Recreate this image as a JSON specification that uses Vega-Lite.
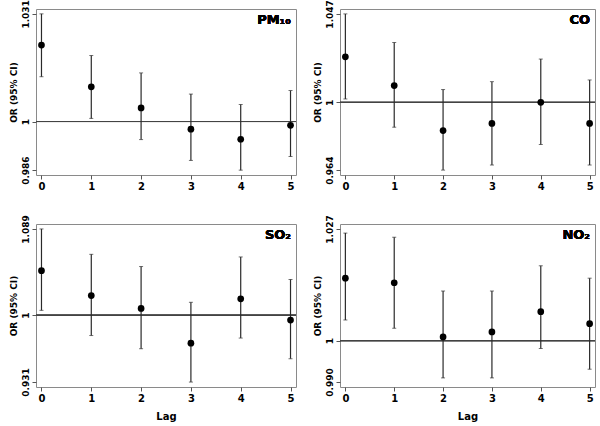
{
  "$schema": "https://vega.github.io/schema/vega-lite/v6.json",
  "padding": {"left": 8, "top": -1, "right": 2, "bottom": 2},
  "background": "white",
  "data": {"values": [
    {"p": "PM10", "lag": 0, "or": 1.0220, "lo": 1.0129, "hi": 1.0310},
    {"p": "PM10", "lag": 1, "or": 1.0100, "lo": 1.0009, "hi": 1.0190},
    {"p": "PM10", "lag": 2, "or": 1.0039, "lo": 0.9948, "hi": 1.0140},
    {"p": "PM10", "lag": 3, "or": 0.9978, "lo": 0.9888, "hi": 1.0079},
    {"p": "PM10", "lag": 4, "or": 0.9949, "lo": 0.9860, "hi": 1.0049},
    {"p": "PM10", "lag": 5, "or": 0.9989, "lo": 0.9899, "hi": 1.0089},
    {"p": "CO", "lag": 0, "or": 1.0242, "lo": 1.0018, "hi": 1.0470},
    {"p": "CO", "lag": 1, "or": 1.0089, "lo": 0.9868, "hi": 1.0318},
    {"p": "CO", "lag": 2, "or": 0.9850, "lo": 0.9640, "hi": 1.0068},
    {"p": "CO", "lag": 3, "or": 0.9888, "lo": 0.9667, "hi": 1.0110},
    {"p": "CO", "lag": 4, "or": 1.0000, "lo": 0.9776, "hi": 1.0230},
    {"p": "CO", "lag": 5, "or": 0.9888, "lo": 0.9667, "hi": 1.0119},
    {"p": "SO2", "lag": 0, "or": 1.0459, "lo": 1.0050, "hi": 1.0890},
    {"p": "SO2", "lag": 1, "or": 1.0202, "lo": 0.9790, "hi": 1.0628},
    {"p": "SO2", "lag": 2, "or": 1.0070, "lo": 0.9654, "hi": 1.0502},
    {"p": "SO2", "lag": 3, "or": 0.9711, "lo": 0.9310, "hi": 1.0133},
    {"p": "SO2", "lag": 4, "or": 1.0169, "lo": 0.9764, "hi": 1.0601},
    {"p": "SO2", "lag": 5, "or": 0.9950, "lo": 0.9551, "hi": 1.0369},
    {"p": "NO2", "lag": 0, "or": 1.0151, "lo": 1.0050, "hi": 1.0260},
    {"p": "NO2", "lag": 1, "or": 1.0140, "lo": 1.0030, "hi": 1.0250},
    {"p": "NO2", "lag": 2, "or": 1.0009, "lo": 0.9910, "hi": 1.0120},
    {"p": "NO2", "lag": 3, "or": 1.0021, "lo": 0.9910, "hi": 1.0120},
    {"p": "NO2", "lag": 4, "or": 1.0070, "lo": 0.9981, "hi": 1.0181},
    {"p": "NO2", "lag": 5, "or": 1.0041, "lo": 0.9931, "hi": 1.0151}
  ]},
  "columns": 2,
  "spacing": {"row": 22, "column": 15},
  "concat": [
    {
      "width": 260, "height": 166,
      "transform": [{"filter": "datum.p == 'PM10'"}],
      "encoding": {
        "x": {"field": "lag", "type": "quantitative", "scale": {"domain": [-0.11, 5.11], "nice": false, "zero": false}, "axis": {"values": [0,1,2,3,4,5], "title": null, "format": "d"}},
        "y": {"field": "or", "type": "quantitative", "scale": {"domain": [0.9846, 1.0324], "nice": false, "zero": false}, "axis": {"values": [0.986, 1, 1.031], "title": "OR (95% CI)", "labelExpr": "datum.value == 1 ? '1' : format(datum.value, '.3f')"}}
      },
      "layer": [
        {"mark": {"type": "rule", "color": "#444", "strokeWidth": 1}, "encoding": {"x": {"datum": -0.11}, "x2": {"datum": 5.11}, "y": {"datum": 1}}},
        {"mark": {"type": "rule", "color": "#2a2a2a", "strokeWidth": 1.2}, "encoding": {"y": {"field": "lo", "type": "quantitative"}, "y2": {"field": "hi"}}},
        {"mark": {"type": "tick", "orient": "horizontal", "size": 4, "color": "#333", "thickness": 1}, "encoding": {"y": {"field": "lo", "type": "quantitative"}}},
        {"mark": {"type": "tick", "orient": "horizontal", "size": 4, "color": "#333", "thickness": 1}, "encoding": {"y": {"field": "hi", "type": "quantitative"}}},
        {"mark": {"type": "point", "filled": true, "color": "#000", "size": 45, "opacity": 1}},
        {"mark": {"type": "text", "text": "PM₁₀", "align": "right", "baseline": "top", "font": "DejaVu Sans", "fontWeight": "bold", "fontSize": 13, "color": "#000", "dx": -5, "dy": 5}, "encoding": {"x": {"datum": 5.11}, "y": {"datum": 1.0324}}}
      ]
    },
    {
      "width": 255, "height": 166,
      "transform": [{"filter": "datum.p == 'CO'"}],
      "encoding": {
        "x": {"field": "lag", "type": "quantitative", "scale": {"domain": [-0.11, 5.11], "nice": false, "zero": false}, "axis": {"values": [0,1,2,3,4,5], "title": null, "format": "d"}},
        "y": {"field": "or", "type": "quantitative", "scale": {"domain": [0.9614, 1.0496], "nice": false, "zero": false}, "axis": {"values": [0.964, 1, 1.047], "title": "OR (95% CI)", "labelExpr": "datum.value == 1 ? '1' : format(datum.value, '.3f')"}}
      },
      "layer": [
        {"mark": {"type": "rule", "color": "#444", "strokeWidth": 1}, "encoding": {"x": {"datum": -0.11}, "x2": {"datum": 5.11}, "y": {"datum": 1}}},
        {"mark": {"type": "rule", "color": "#2a2a2a", "strokeWidth": 1.2}, "encoding": {"y": {"field": "lo", "type": "quantitative"}, "y2": {"field": "hi"}}},
        {"mark": {"type": "tick", "orient": "horizontal", "size": 4, "color": "#333", "thickness": 1}, "encoding": {"y": {"field": "lo", "type": "quantitative"}}},
        {"mark": {"type": "tick", "orient": "horizontal", "size": 4, "color": "#333", "thickness": 1}, "encoding": {"y": {"field": "hi", "type": "quantitative"}}},
        {"mark": {"type": "point", "filled": true, "color": "#000", "size": 45, "opacity": 1}},
        {"mark": {"type": "text", "text": "CO", "align": "right", "baseline": "top", "font": "DejaVu Sans", "fontWeight": "bold", "fontSize": 13, "color": "#000", "dx": -5, "dy": 5}, "encoding": {"x": {"datum": 5.11}, "y": {"datum": 1.0496}}}
      ]
    },
    {
      "width": 260, "height": 163,
      "transform": [{"filter": "datum.p == 'SO2'"}],
      "encoding": {
        "x": {"field": "lag", "type": "quantitative", "scale": {"domain": [-0.11, 5.11], "nice": false, "zero": false}, "axis": {"values": [0,1,2,3,4,5], "title": "Lag", "format": "d"}},
        "y": {"field": "or", "type": "quantitative", "scale": {"domain": [0.9259, 1.0941], "nice": false, "zero": false}, "axis": {"values": [0.931, 1, 1.089], "title": "OR (95% CI)", "labelExpr": "datum.value == 1 ? '1' : format(datum.value, '.3f')"}}
      },
      "layer": [
        {"mark": {"type": "rule", "color": "#444", "strokeWidth": 1}, "encoding": {"x": {"datum": -0.11}, "x2": {"datum": 5.11}, "y": {"datum": 1}}},
        {"mark": {"type": "rule", "color": "#2a2a2a", "strokeWidth": 1.2}, "encoding": {"y": {"field": "lo", "type": "quantitative"}, "y2": {"field": "hi"}}},
        {"mark": {"type": "tick", "orient": "horizontal", "size": 4, "color": "#333", "thickness": 1}, "encoding": {"y": {"field": "lo", "type": "quantitative"}}},
        {"mark": {"type": "tick", "orient": "horizontal", "size": 4, "color": "#333", "thickness": 1}, "encoding": {"y": {"field": "hi", "type": "quantitative"}}},
        {"mark": {"type": "point", "filled": true, "color": "#000", "size": 45, "opacity": 1}},
        {"mark": {"type": "text", "text": "SO₂", "align": "right", "baseline": "top", "font": "DejaVu Sans", "fontWeight": "bold", "fontSize": 13, "color": "#000", "dx": -5, "dy": 5}, "encoding": {"x": {"datum": 5.11}, "y": {"datum": 1.0941}}}
      ]
    },
    {
      "width": 255, "height": 163,
      "transform": [{"filter": "datum.p == 'NO2'"}],
      "encoding": {
        "x": {"field": "lag", "type": "quantitative", "scale": {"domain": [-0.11, 5.11], "nice": false, "zero": false}, "axis": {"values": [0,1,2,3,4,5], "title": "Lag", "format": "d"}},
        "y": {"field": "or", "type": "quantitative", "scale": {"domain": [0.9888, 1.0282], "nice": false, "zero": false}, "axis": {"values": [0.990, 1, 1.027], "title": "OR (95% CI)", "labelExpr": "datum.value == 1 ? '1' : format(datum.value, '.3f')"}}
      },
      "layer": [
        {"mark": {"type": "rule", "color": "#444", "strokeWidth": 1}, "encoding": {"x": {"datum": -0.11}, "x2": {"datum": 5.11}, "y": {"datum": 1}}},
        {"mark": {"type": "rule", "color": "#2a2a2a", "strokeWidth": 1.2}, "encoding": {"y": {"field": "lo", "type": "quantitative"}, "y2": {"field": "hi"}}},
        {"mark": {"type": "tick", "orient": "horizontal", "size": 4, "color": "#333", "thickness": 1}, "encoding": {"y": {"field": "lo", "type": "quantitative"}}},
        {"mark": {"type": "tick", "orient": "horizontal", "size": 4, "color": "#333", "thickness": 1}, "encoding": {"y": {"field": "hi", "type": "quantitative"}}},
        {"mark": {"type": "point", "filled": true, "color": "#000", "size": 45, "opacity": 1}},
        {"mark": {"type": "text", "text": "NO₂", "align": "right", "baseline": "top", "font": "DejaVu Sans", "fontWeight": "bold", "fontSize": 13, "color": "#000", "dx": -5, "dy": 5}, "encoding": {"x": {"datum": 5.11}, "y": {"datum": 1.0282}}}
      ]
    }
  ],
  "resolve": {"scale": {"x": "independent", "y": "independent"}},
  "config": {
    "view": {"stroke": "#8a8a8a", "strokeWidth": 1},
    "axis": {
      "grid": false, "domain": false,
      "tickColor": "#555", "tickSize": 4,
      "labelFont": "DejaVu Sans", "labelFontWeight": "bold", "labelFontSize": 10, "labelColor": "#000", "labelPadding": 2,
      "titleFont": "DejaVu Sans", "titleFontWeight": "bold", "titleFontSize": 9, "titleColor": "#000"
    },
    "axisY": {"labelAngle": -90, "labelFontSize": 9, "titlePadding": 3},
    "axisX": {"titlePadding": 8, "titleFontSize": 10, "labelFlush": false}
  }
}
